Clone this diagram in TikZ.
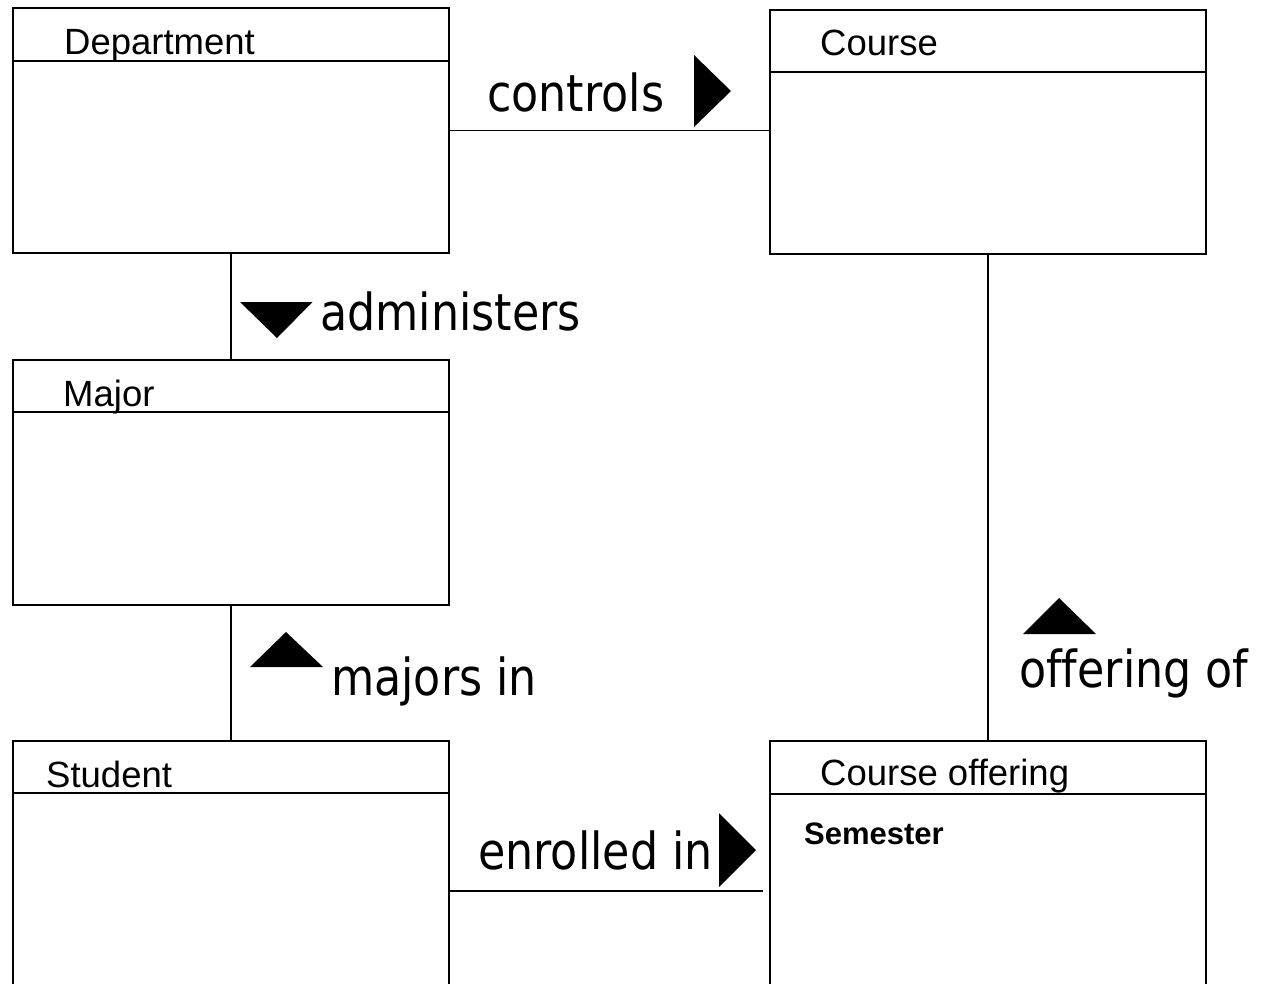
\documentclass[tikz,border=0pt]{standalone}
\usepackage{fontspec}
\setmainfont{Liberation Sans}
\newfontfamily\lblfont[FakeStretch=0.87,Ligatures=NoCommon]{DejaVu Sans}
\tikzset{
  umlbox/.style={draw, line width=2pt, inner sep=0pt, outer sep=0pt, anchor=north west, minimum width=436pt},
  hdr/.style={line width=2pt},
  conn/.style={line width=1.8pt},
  title/.style={anchor=base west, inner sep=0pt, font=\fontsize{36.5}{40}\selectfont},
  attr/.style={anchor=base west, inner sep=0pt, font=\bfseries\fontsize{31}{34}\selectfont},
  rel/.style={anchor=base west, inner sep=0pt, font=\lblfont\fontsize{51}{56}\selectfont},
  marker/.style={fill=black}
}
\begin{document}
\begin{tikzpicture}[x=1pt,y=-1pt]
\useasboundingbox (0,0) rectangle (1272,983);
\fill[white] (0,0) rectangle (1272,983);
\clip (0,0) rectangle (1272,983);

% class boxes
\node[umlbox, minimum height=245pt] (dept) at (13,8) {};
\node[umlbox, minimum height=244.5pt] (course) at (770,9.5) {};
\node[umlbox, minimum height=245pt] (major) at (13,360) {};
\node[umlbox, minimum height=299pt] (student) at (13,741) {};
\node[umlbox, minimum height=299pt] (offering) at (770,741) {};

% header lines
\draw[hdr] ([yshift=-52.5pt]dept.north west) -- ([yshift=-52.5pt]dept.north east);
\draw[hdr] ([yshift=-62.5pt]course.north west) -- ([yshift=-62.5pt]course.north east);
\draw[hdr] ([yshift=-52pt]major.north west) -- ([yshift=-52pt]major.north east);
\draw[hdr] ([yshift=-52pt]student.north west) -- ([yshift=-52pt]student.north east);
\draw[hdr] ([yshift=-53pt]offering.north west) -- ([yshift=-53pt]offering.north east);

% titles
\node[title] (tdept) at (64,54) {Department};
\node[title] (tcourse) at (820,55) {Course};
\node[title] (tmajor) at (63,406) {Major};
\node[title] (tstudent) at (46,787) {Student};
\node[title] (toffering) at (820,785) {Course offering};
\node[attr] (tsem) at (804,844) {Semester};

% connectors
\draw[conn] (dept.east) -- (dept.east -| course.west);
\draw[conn] (dept.south) -- (major.north);
\draw[conn] (major.south) -- (student.north);
\draw[conn] (course.south) -- (offering.north);
\coordinate (enrEnd) at (763,891);
\draw[conn] (student.east |- enrEnd) -- (enrEnd);

% relation labels
\node[rel] (lcontrols) at (487,111) {controls};
\node[rel] (ladmin) at (320,330) {administers};
\node[rel] (lmajors) at (331,695) {majors in};
\node[rel] (lenrolled) at (478,869) {enrolled in};
\node[rel] (loffering) at (1019,687) {offering of};

% direction markers
\fill[marker] (694,55) -- (694,127) -- (731,91) -- cycle;
\fill[marker] (240,302) -- (312.5,302) -- (277,338) -- cycle;
\fill[marker] (250,667) -- (323,667) -- (286,632) -- cycle;
\fill[marker] (1023,634) -- (1096,634) -- (1059,598) -- cycle;
\fill[marker] (719,813) -- (719,887) -- (756,850) -- cycle;
\end{tikzpicture}
\end{document}
